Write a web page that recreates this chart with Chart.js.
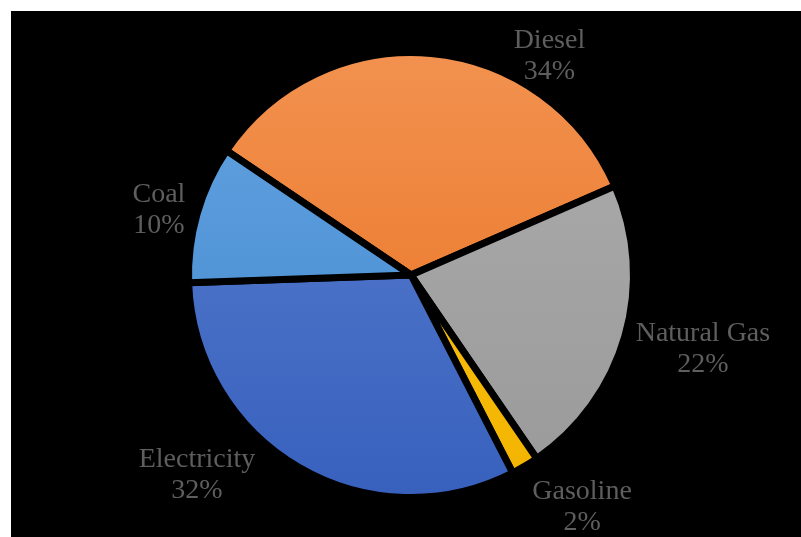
<!DOCTYPE html>
<html>
<head>
<meta charset="utf-8">
<script src="https://cdn.jsdelivr.net/npm/chart.js@4/dist/chart.umd.min.js"></script>
<style>
  html, body { margin: 0; padding: 0; background: #fff; }
  #wrap { position: absolute; left: 11px; top: 11px; width: 790px; height: 526px; background: #000; }
</style>
</head>
<body>
<div id="wrap"><canvas id="pie"></canvas></div>
<script>
// fuel share, clockwise starting with Diesel
const fuels = ["Diesel", "Natural Gas", "Gasoline", "Electricity", "Coal"];
const shares = [34, 22, 2, 32, 10];

// top / bottom colours of each slice's gradient
const topColors = ["#f2914f", "#acacac", "#ffc516", "#5b80cf", "#62a2e0"];
const bottomColors = ["#e8701e", "#9a9a9a", "#f2b400", "#3861be", "#4389cf"];

// where each label block sits, in units of the pie radius from its centre
const labelSpots = [[0.632, -1.0], [1.333, 0.34], [0.781, 1.059], [-0.977, 0.913], [-1.151, -0.297]];

const gap = 7;

function sliceFill(c) {
  const area = c.chart.chartArea;
  const i = c.dataIndex;
  if (!area) return topColors[i];
  const g = c.chart.ctx.createLinearGradient(0, area.top + 45, 0, area.bottom - 45);
  g.addColorStop(0, topColors[i]);
  g.addColorStop(1, bottomColors[i]);
  return g;
}

const outsideLabels = {
  id: "outsideLabels",
  afterDatasetsDraw(chart) {
    const ctx = chart.ctx;
    const meta = chart.getDatasetMeta(0);
    const total = shares.reduce((a, b) => a + b, 0);
    ctx.save();
    ctx.fillStyle = "#5e5e5e";
    ctx.font = "28px 'Liberation Serif', 'Times New Roman', serif";
    ctx.textAlign = "center";
    ctx.textBaseline = "middle";
    meta.data.forEach((arc, i) => {
      const r = arc.outerRadius - gap / 2;
      const cx = arc.x + labelSpots[i][0] * r;
      const cy = arc.y + labelSpots[i][1] * r;
      const pct = Math.round(shares[i] / total * 100) + "%";
      ctx.fillText(fuels[i], cx, cy - 15.5);
      ctx.fillText(pct, cx, cy + 15.5);
    });
    ctx.restore();
  }
};

new Chart(document.getElementById("pie"), {
  type: "pie",
  data: {
    labels: fuels,
    datasets: [{
      data: shares,
      backgroundColor: sliceFill,
      borderColor: "#000",
      borderWidth: gap,
      radius: 219 + gap / 2,
      hoverOffset: 0
    }]
  },
  options: {
    responsive: true,
    maintainAspectRatio: false,
    animation: false,
    rotation: -56,
    layout: { padding: { left: 10, top: 2 } },
    plugins: {
      legend: { display: false },
      tooltip: { enabled: false }
    }
  },
  plugins: [outsideLabels]
});
</script>
</body>
</html>
